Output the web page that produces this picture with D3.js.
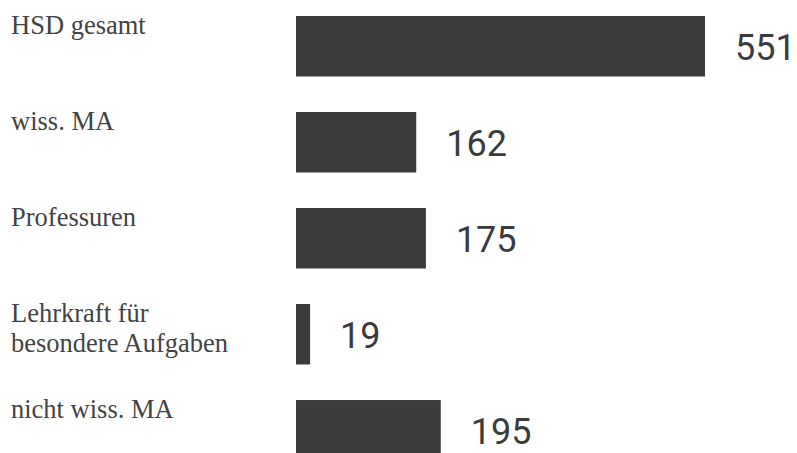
<!DOCTYPE html>
<html>
  <head>
    <meta charset="utf-8">
    <title>HSD Personal</title>
    <script src="https://cdn.jsdelivr.net/npm/d3@7"></script>
    <style>
      body { margin: 0; background: #fff; }
      #chart { display: block; width: 797px; height: 453px; }
      .label { font-family: "Liberation Serif", "Times New Roman", serif; font-size: 26.5px; fill: #434343; }
      .value { font-family: Roboto, sans-serif; font-size: 36px; fill: #3a3b3d; }
      .bar { fill: #3a3b3d; }
    </style>
  </head>

  <body>
    <svg id="chart"></svg>

    <script>
      // data
      categories = ["HSD gesamt", "wiss. MA", "Professuren", "Lehrkraft für besondere Aufgaben", "nicht wiss. MA"];
      labelLines = [["HSD gesamt"], ["wiss. MA"], ["Professuren"], ["Lehrkraft für", "besondere Aufgaben"], ["nicht wiss. MA"]];
      values = [551, 162, 175, 19, 195];

      chart = d3.select("#chart");

      margin = { top: 16, left: 296 };

      x = d3.scaleLinear()
        .domain([0, 551])
        .range([margin.left, 705]);
      y = d3.scaleBand()
        .domain(categories)
        .range([margin.top, margin.top + 96 * 4 + 60.5])
        .paddingInner(0.37)
        .paddingOuter(0);

      rows = chart.selectAll(".row")
        .data(categories.map(function(c, i) {
          return { name: c, lines: labelLines[i], value: values[i] };
        }))
        .enter().append("g")
          .attr("class", "row");

      rows.append("rect")
        .attr("class", "bar")
        .attr("x", x(0))
        .attr("y", function(d) { return y(d.name); })
        .attr("width", function(d) { return x(d.value) - x(0); })
        .attr("height", y.bandwidth());

      rows.append("text")
        .attr("class", "label")
        .attr("x", 11)
        .attr("y", function(d) { return y(d.name) + 18; })
        .selectAll("tspan")
          .data(function(d) { return d.lines; })
        .enter().append("tspan")
          .attr("x", 11)
          .attr("dy", function(d, i) { return i == 0 ? 0 : 30; })
          .text(function(d) { return d; });

      rows.append("text")
        .attr("class", "value")
        .attr("x", function(d) { return x(d.value) + 30; })
        .attr("y", function(d) { return y(d.name) + y.bandwidth() / 2 + 14; })
        .text(function(d) { return d.value; });
    </script>
  </body>
</html>
